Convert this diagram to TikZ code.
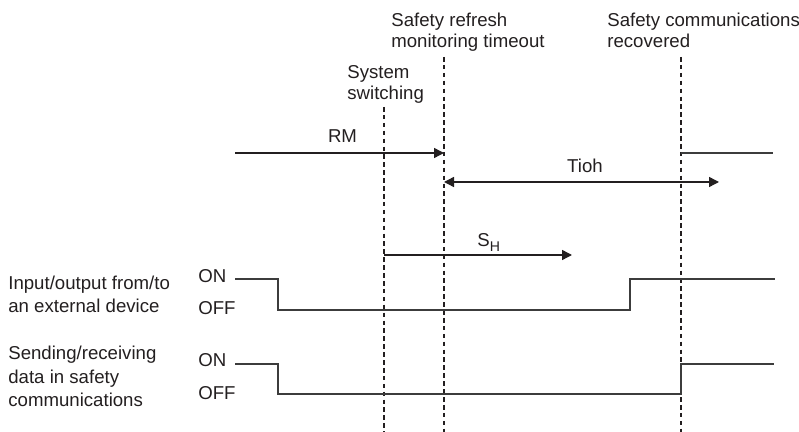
\documentclass[tikz,border=0pt]{standalone}
\usepackage{fontspec}
\setmainfont{Liberation Sans}
\usetikzlibrary{arrows.meta}
\definecolor{tdInk}{RGB}{35,31,32}
\definecolor{tdLine}{RGB}{60,60,60}
\tikzset{
  tlabel/.style={font=\fontsize{10.6}{12.5}\selectfont, text=tdInk,
    align=left, inner sep=0pt},
  tside/.style={font=\fontsize{10.6}{13.6}\selectfont, text=tdInk,
    align=left, inner sep=0pt},
  tmark/.style={dash pattern=on 2.6pt off 1.9pt, line width=.65pt,
    draw=tdInk},
  tsig/.style={line width=.8pt, draw=tdLine, line join=miter},
  tspan/.style={-{Triangle[length=2mm,width=2mm]}, line width=.8pt,
    draw=tdInk},
  tboth/.style={{Triangle[length=2mm,width=2mm]}-{Triangle[length=2mm,width=2mm]},
    line width=.8pt, draw=tdInk}
}
\begin{document}
\begin{tikzpicture}
\path[use as bounding box] (0,0) rectangle (15.98,-8.64);

% event labels (base = last line)
\node[tlabel, anchor=base west] (swlbl) at (6.94,-2.00) {System\\switching};
\node[tlabel, anchor=base west] (tolbl) at (7.82,-.96) {Safety refresh\\monitoring timeout};
\node[tlabel, anchor=base west] (reclbl) at (12.14,-.96) {Safety communications\\recovered};

% event markers
\coordinate (sw top) at (7.68,-2.14);
\coordinate (sw bot) at (7.68,-8.64);
\coordinate (to top) at (8.88,-1.14);
\coordinate (to bot) at (8.88,-8.64);
\coordinate (rec top) at (13.62,-1.14);
\coordinate (rec bot) at (13.62,-8.64);
\draw[tmark] (sw top) -- (sw bot);
\draw[tmark] (to top) -- (to bot);
\draw[tmark] (rec top) -- (rec bot);

% time spans
\coordinate (rm start) at (4.70,-3.06);
\coordinate (rm end) at (8.88,-3.06);
\coordinate (rm back) at (13.62,-3.06);
\coordinate (rm stop) at (15.46,-3.06);
\draw[tspan] (rm start) -- (rm end);
\draw[tsig] (rm back) -- (rm stop);
\node[tlabel, anchor=base] (rmlbl) at (6.85,-2.86) {RM};

\coordinate (tioh a) at (8.88,-3.64);
\coordinate (tioh b) at (14.38,-3.64);
\draw[tboth] (tioh a) -- (tioh b);
\node[tlabel, anchor=base] (tiohlbl) at (11.70,-3.46) {Tioh};

\coordinate (sh a) at (7.68,-5.10);
\coordinate (sh b) at (11.44,-5.10);
\draw[tspan] (sh a) -- (sh b);
\node[tlabel, anchor=base west] (shlbl) at (9.54,-4.94)
  {S\raisebox{-.45ex}{\fontsize{8}{8}\selectfont H}};

% signal rows
\node[tside, anchor=base west] (iolbl) at (.16,-6.26) {Input/output from/to\\an external device};
\node[tside, anchor=base west] (ioon) at (3.96,-5.66) {ON};
\node[tside, anchor=base west] (iooff) at (3.96,-6.30) {OFF};
\coordinate (io on) at (4.70,-5.58);
\coordinate (io drop) at (5.56,-6.20);
\coordinate (io rise) at (12.60,-5.58);
\coordinate (io end) at (15.50,-5.58);
\draw[tsig] (io on) -| (io drop) -| (io rise) -- (io end);

\node[tside, anchor=base west] (sclbl) at (.16,-8.14) {Sending/receiving\\data in safety\\communications};
\node[tside, anchor=base west] (scon) at (3.96,-7.34) {ON};
\node[tside, anchor=base west] (scoff) at (3.96,-8.00) {OFF};
\coordinate (sc on) at (4.70,-7.28);
\coordinate (sc drop) at (5.56,-7.88);
\coordinate (sc rise) at (13.62,-7.28);
\coordinate (sc end) at (15.48,-7.28);
\draw[tsig] (sc on) -| (sc drop) -| (sc rise) -- (sc end);
\end{tikzpicture}
\end{document}
